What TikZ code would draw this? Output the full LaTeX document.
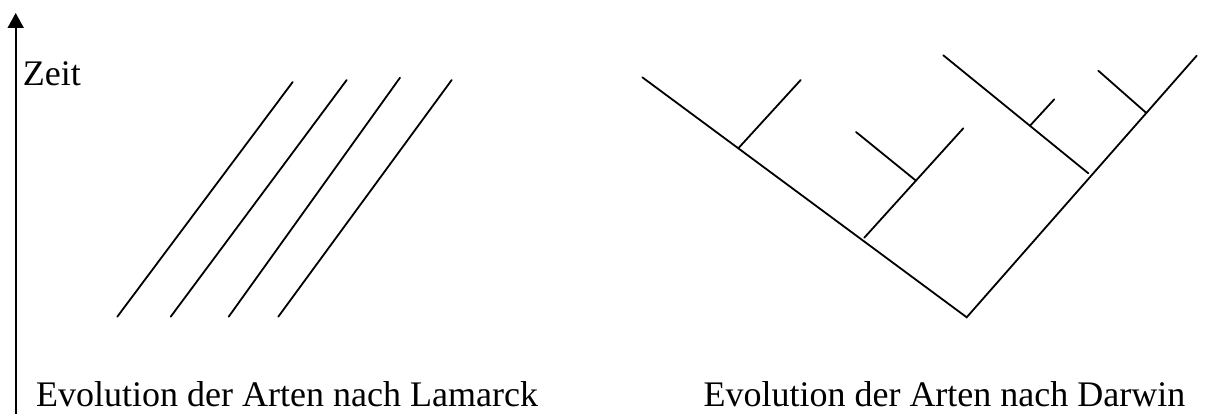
\documentclass[tikz,border=0pt]{standalone}
\usepackage{fontspec}
\setmainfont{Liberation Serif}
\usetikzlibrary{arrows.meta}
\begin{document}
\begin{tikzpicture}[x=1pt,y=-1pt,
  branch/.style={line width=1.8pt,line cap=round},
  axis/.style={line width=1.8pt,-{Triangle[width=16pt,length=15pt]}},
  label/.style={inner sep=0pt,anchor=base west,font=\fontsize{36}{40}\selectfont}]
\useasboundingbox (0,0) rectangle (1207,414);
% time axis
\coordinate (ax0) at (15.7,414);
\coordinate (ax1) at (15.7,13);
\draw[axis] (ax0) -- (ax1);
\node[label] (zeit) at (22.7,86) {Zeit};
% Lamarck
\coordinate (l1a) at (117.3,316.7); \coordinate (l1b) at (292.7,82);
\coordinate (l2a) at (170.7,316.7); \coordinate (l2b) at (346.7,80);
\coordinate (l3a) at (228.7,316.7); \coordinate (l3b) at (400,77.7);
\coordinate (l4a) at (278.3,316.7); \coordinate (l4b) at (451.7,80);
\draw[branch] (l1a) -- (l1b);
\draw[branch] (l2a) -- (l2b);
\draw[branch] (l3a) -- (l3b);
\draw[branch] (l4a) -- (l4b);
% Darwin
\coordinate (root) at (966.7,317.3);
\coordinate (lt) at (642.3,77.3);
\coordinate (rt) at (1196.7,55.7);
\draw[branch] (lt) -- (root) -- (rt);
\coordinate (j1) at (738.3,148.3); \coordinate (t1) at (800.7,80);
\draw[branch] (j1) -- (t1);
\coordinate (j2) at (864.3,237.7); \coordinate (t2) at (963.3,128.3);
\draw[branch] (j2) -- (t2);
\coordinate (j3) at (916,180.7); \coordinate (t3) at (856,132);
\draw[branch] (j3) -- (t3);
\coordinate (j4) at (1088.3,173.3); \coordinate (t4) at (943.3,55.3);
\draw[branch] (j4) -- (t4);
\coordinate (j5) at (1030,125.7); \coordinate (t5) at (1054.3,99.3);
\draw[branch] (j5) -- (t5);
\coordinate (j6) at (1146,112.7); \coordinate (t6) at (1098.3,70.7);
\draw[branch] (j6) -- (t6);
% captions
\node[label] (lam) at (36,406) {Evolution der Arten nach Lamarck};
\node[label] (dar) at (703.3,406) {Evolution der Arten nach Darwin};
\end{tikzpicture}
\end{document}
